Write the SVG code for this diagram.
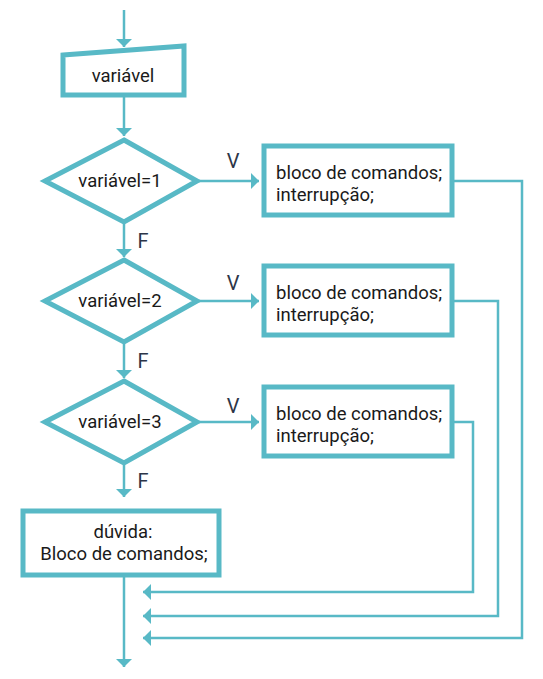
<svg xmlns="http://www.w3.org/2000/svg" width="543" height="679" viewBox="0 0 543 679">
<style>
.node{fill:#ffffff;stroke:#58b9c6;stroke-width:5;stroke-linejoin:miter}
.conn{fill:none;stroke:#58b9c6;stroke-width:2.5}
.t{font-family:Roboto,"Liberation Sans",sans-serif;font-size:18.5px;fill:#1a1a1a}
.lbl{font-family:Roboto,"Liberation Sans",sans-serif;font-size:20px;fill:#2d3648}
.c{text-anchor:middle}
</style>
<defs>
<marker id="ah" markerUnits="userSpaceOnUse" markerWidth="10" markerHeight="18" refX="8" refY="8" orient="auto" viewBox="0 0 10 18">
<path d="M0,0 L8,8 L0,16 z" fill="#58b9c6"/>
</marker>
</defs>
<rect width="543" height="679" fill="#ffffff"/>
<g id="connectors">
<line class="conn" x1="124" y1="10" x2="124" y2="47" marker-end="url(#ah)"/>
<line class="conn" x1="124" y1="97" x2="124" y2="136" marker-end="url(#ah)"/>
<line class="conn" x1="199" y1="181" x2="259" y2="181" marker-end="url(#ah)"/>
<line class="conn" x1="124" y1="224" x2="124" y2="257" marker-end="url(#ah)"/>
<line class="conn" x1="199" y1="301" x2="259" y2="301" marker-end="url(#ah)"/>
<line class="conn" x1="124" y1="344" x2="124" y2="378" marker-end="url(#ah)"/>
<line class="conn" x1="199" y1="422" x2="259" y2="422" marker-end="url(#ah)"/>
<line class="conn" x1="124" y1="465" x2="124" y2="497" marker-end="url(#ah)"/>
<line class="conn" x1="124" y1="577" x2="124" y2="667" marker-end="url(#ah)"/>
<polyline class="conn" points="452,181 522,181 522,638 143,638" marker-end="url(#ah)"/>
<polyline class="conn" points="452,301 498,301 498,616 143,616" marker-end="url(#ah)"/>
<polyline class="conn" points="452,422 473,422 473,592 143,592" marker-end="url(#ah)"/>
<text class="lbl c" x="233" y="168">V</text>
<text class="lbl c" x="233" y="290">V</text>
<text class="lbl c" x="233" y="413">V</text>
<text class="lbl c" x="143" y="248">F</text>
<text class="lbl c" x="143" y="368">F</text>
<text class="lbl c" x="143" y="488">F</text>
</g>
<g id="input">
<polygon class="node" points="63,55 184,46 184,95 63,95"/>
<text class="t c" x="123" y="82">variável</text>
</g>
<g id="decision1">
<polygon class="node" points="124,140 197,181 124,222 45,181"/>
<text class="t c" x="120" y="187">variável=1</text>
</g>
<g id="block1">
<rect class="node" x="264" y="146" width="188" height="69"/>
<text class="t" x="276" y="179">bloco de comandos;</text>
<text class="t" x="276" y="201">interrupção;</text>
</g>
<g id="decision2">
<polygon class="node" points="124,260 197,301 124,342 45,301"/>
<text class="t c" x="120" y="307">variável=2</text>
</g>
<g id="block2">
<rect class="node" x="264" y="266" width="188" height="69"/>
<text class="t" x="276" y="299">bloco de comandos;</text>
<text class="t" x="276" y="321">interrupção;</text>
</g>
<g id="decision3">
<polygon class="node" points="124,381 197,422 124,463 45,422"/>
<text class="t c" x="120" y="428">variável=3</text>
</g>
<g id="block3">
<rect class="node" x="264" y="387" width="188" height="69"/>
<text class="t" x="276" y="420">bloco de comandos;</text>
<text class="t" x="276" y="442">interrupção;</text>
</g>
<g id="default">
<rect class="node" x="23" y="511" width="196" height="64"/>
<text class="t c" x="123" y="538">dúvida:</text>
<text class="t c" x="124" y="560">Bloco de comandos;</text>
</g>
</svg>
